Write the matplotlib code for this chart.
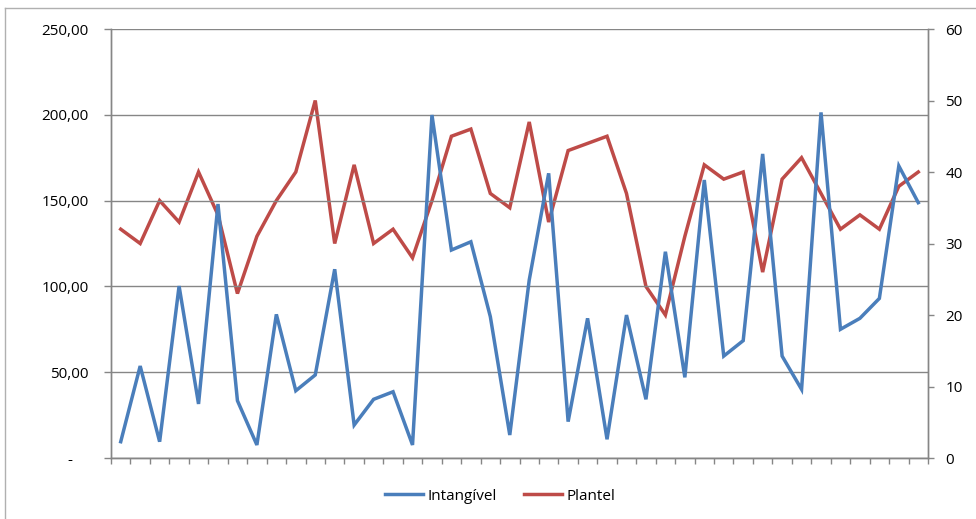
import matplotlib
matplotlib.use("Agg")
import matplotlib.pyplot as plt
from matplotlib.lines import Line2D
from matplotlib.ticker import FixedLocator, FuncFormatter
import numpy as np

plt.rcParams['font.family'] = ['Open Sans', 'DejaVu Sans']

# Series values per category (42 categories)
intangivel = [9.5, 53.6, 9.5, 100.2, 31.5, 148.0, 33.4, 7.6, 83.7, 39.2,
              48.4, 110.0, 19.2, 34.2, 38.6, 7.6, 199.9, 121.2, 126.0, 82.4,
              13.4, 103.7, 165.9, 21.2, 81.4, 10.9, 83.3, 34.2, 120.2, 47.0,
              162.0, 59.4, 68.4, 177.2, 59.4, 40.0, 201.4, 75.0, 81.4, 93.0,
              170.2, 148.8]
plantel = [32, 30, 36, 33, 40, 34, 23, 31, 36, 40,
           50, 30, 41, 30, 32, 28, 36, 45, 46, 37,
           35, 47, 33, 43, 44, 45, 37, 24, 20, 31,
           41, 39, 40, 26, 39, 42, 37, 32, 34, 32,
           38, 40]
series_names = ["Intangível", "Plantel"]
left_ticks = [0, 50, 100, 150, 200, 250]
right_ticks = [0, 10, 20, 30, 40, 50, 60]

BLUE = "#4A7EBB"
RED = "#BE4B48"
GRID = "#868686"
FS = 11

W, H = 976, 519
fig = plt.figure(figsize=(W / 100, H / 100), dpi=100)
ax = fig.add_axes([111 / W, 1 - 458 / H, (928 - 111) / W, (458 - 29) / H])
ax2 = ax.twinx()

n = len(intangivel)
x = np.arange(n) + 0.5

ax.plot(x, intangivel, color=BLUE, lw=2.5, solid_joinstyle='miter', zorder=3)
ax2.plot(x, plantel, color=RED, lw=2.5, solid_joinstyle='miter', zorder=3)

ax.set_xlim(0, n)
ax.set_ylim(0, 250)
ax2.set_ylim(0, 60)

def fmt_left(v, pos):
    # accounting-style format: zero shown as a dash, decimal comma
    if v == 0:
        return "-    "
    return f"{v:.2f}".replace(".", ",")

ax.yaxis.set_major_locator(FixedLocator(left_ticks))
ax.yaxis.set_major_formatter(FuncFormatter(fmt_left))
ax2.yaxis.set_major_locator(FixedLocator(right_ticks))

ax.set_xticks(np.arange(n + 1))
ax.set_xticklabels([])

ax.grid(axis='y', color=GRID, lw=1.0)
ax.set_axisbelow(True)

for a in (ax, ax2):
    a.spines['top'].set_visible(False)
    for s in ('left', 'right', 'bottom'):
        a.spines[s].set_color(GRID)
        a.spines[s].set_linewidth(1.0)
    a.tick_params(axis='both', direction='out', width=1.0,
                  color=GRID, labelsize=FS, labelcolor='black')
ax.tick_params(axis='y', length=5, pad=11)
ax.tick_params(axis='x', length=4)
ax2.tick_params(axis='y', length=4.5, pad=8)

ax.set_zorder(ax2.get_zorder() + 1)
ax.patch.set_visible(False)

handles = [Line2D([], [], color=BLUE, lw=2.5), Line2D([], [], color=RED, lw=2.5)]
fig.legend(handles, series_names, loc='center', bbox_to_anchor=(500 / W, 1 - 496 / H),
           ncol=2, frameon=False, fontsize=FS, handlelength=2.5,
           handletextpad=0.25, columnspacing=1.8)

# chart area border
fig.add_artist(Line2D([5 / W, 5 / W], [0, 1 - 8 / H], transform=fig.transFigure,
                      color="#B0B0B0", lw=1.0))
fig.add_artist(Line2D([5 / W, 1], [1 - 8 / H, 1 - 8 / H], transform=fig.transFigure,
                      color="#B0B0B0", lw=1.0))

fig.savefig("out.png", dpi=100)
